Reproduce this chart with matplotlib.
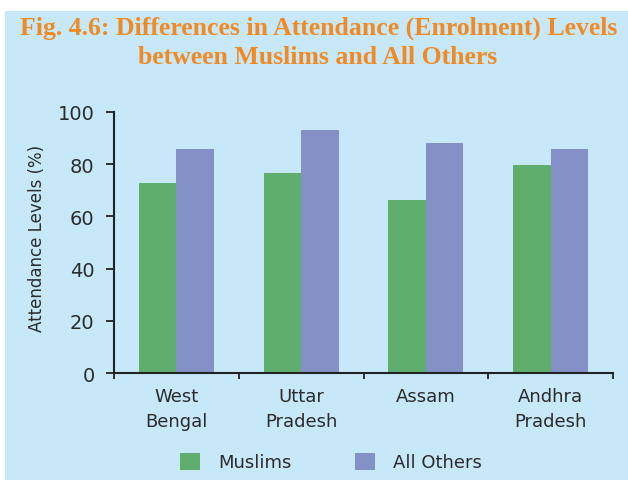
import matplotlib.pyplot as plt
import numpy as np
from matplotlib.patches import Patch, Rectangle

states = ['West\nBengal', 'Uttar\nPradesh', 'Assam', 'Andhra\nPradesh']
muslims = [72.8, 76.6, 66.3, 79.7]
others = [85.8, 93.1, 88.1, 85.8]
yticks = [0, 20, 40, 60, 80, 100]

bg = '#c6e8f9'
green = '#5fae6e'
blue = '#8491c7'
txt = '#2b2b2b'

fig = plt.figure(figsize=(6.28, 4.81), dpi=100)
fig.patch.set_facecolor('white')
fig.patches.append(Rectangle((5 / 628, 0), 1, 1 - 12 / 481, transform=fig.transFigure,
                             facecolor=bg, edgecolor='none', zorder=-10))

fig.text(0.508, 1 - 28 / 481, 'Fig. 4.6: Differences in Attendance (Enrolment) Levels',
         ha='center', va='center', fontsize=18.5, fontweight='bold',
         family='Liberation Serif', color='#f08a24')
fig.text(0.506, 1 - 58 / 481, 'between Muslims and All Others',
         ha='center', va='center', fontsize=18.5, fontweight='bold',
         family='Liberation Serif', color='#f08a24')

ax = fig.add_axes([114 / 628, 1 - 374 / 481, (613 - 114) / 628, 261 / 481])
ax.set_facecolor('none')

x = np.arange(len(states))
w = 0.3
ax.bar(x - w / 2, muslims, w, color=green, label='Muslims')
ax.bar(x + w / 2, others, w, color=blue, label='All Others')

ax.set_xlim(-0.5, 3.5)
ax.set_ylim(0, 100)
ax.set_yticks(yticks)
ax.set_yticklabels([str(v) for v in yticks], fontsize=14, color=txt)
ax.set_xticks(np.arange(-0.5, 4, 1))
ax.set_xticklabels([])
ax.set_xticks(x, minor=True)
ax.set_xticklabels(states, minor=True, fontsize=13, color=txt, linespacing=1.5)
ax.tick_params(axis='x', which='minor', length=0, pad=10)
ax.tick_params(axis='x', which='major', length=4, width=1.3, color='#222222', direction='out')
ax.tick_params(axis='y', length=6, width=1.3, color='#222222', pad=8)

for s in ['top', 'right']:
    ax.spines[s].set_visible(False)
for s in ['left', 'bottom']:
    ax.spines[s].set_linewidth(1.5)
    ax.spines[s].set_color('#222222')

ax.set_ylabel('Attendance Levels (%)', fontsize=12, color=txt)
ax.yaxis.set_label_coords(-0.136, 0.52)

handles = [Patch(facecolor=green, label='Muslims'), Patch(facecolor=blue, label='All Others')]
fig.legend(handles=handles, loc='center', bbox_to_anchor=(0.527, 1 - 463 / 481), ncol=2,
           frameon=False, fontsize=13, handlelength=1.1, handleheight=1.1,
           handletextpad=1.0, columnspacing=3.5, labelcolor=txt)

fig.savefig('out.png', dpi=100, facecolor=fig.get_facecolor())
